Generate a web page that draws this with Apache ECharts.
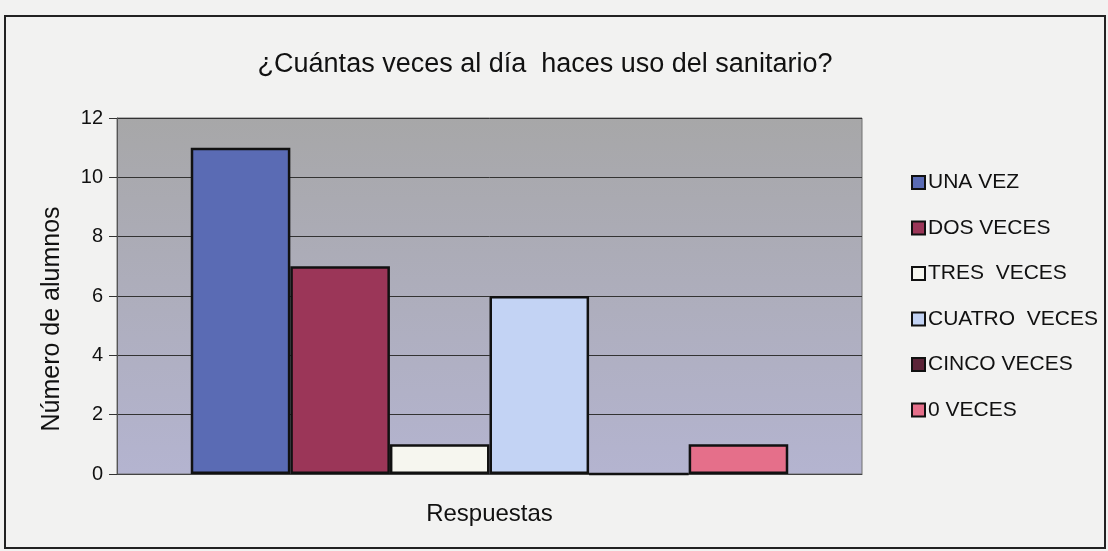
<!DOCTYPE html>
<html>
<head>
<meta charset="utf-8">
<script src="https://cdn.jsdelivr.net/npm/echarts@6/dist/echarts.min.js"></script>
<style>
html,body{margin:0;padding:0;background:#f2f2f1;}
#c{width:1108px;height:551px;}
</style>
</head>
<body>
<div id="c"></div>
<script>
var categories = ['Respuestas'];
var seriesNames = ['UNA VEZ', 'DOS VECES', 'TRES  VECES', 'CUATRO  VECES', 'CINCO VECES', '0 VECES'];
var seriesValues = [11, 7, 1, 6, 0, 1];
var seriesColors = ['#5a6bb4', '#9b3658', '#f6f6ef', '#c3d3f4', '#5c2438', '#e56f8a'];
var yTicks = { min: 0, max: 12, interval: 2 };

var chart = echarts.init(document.getElementById('c'));
var series = seriesNames.map(function (n, i) {
  return {
    name: n,
    type: 'bar',
    data: [seriesValues[i]],
    barGap: '0%',
    barCategoryGap: '19.8%',
    itemStyle: { color: seriesColors[i], borderColor: '#111', borderWidth: 2.5 }
  };
});
chart.setOption({
  backgroundColor: '#f2f2f1',
  animation: false,
  textStyle: { fontFamily: 'Liberation Sans, Arial, sans-serif' },
  title: {
    text: '¿Cuántas veces al día  haces uso del sanitario?',
    left: 540,
    textAlign: 'center',
    top: 46,
    textStyle: { fontSize: 27, fontWeight: 'normal', color: '#111', fontFamily: 'Liberation Sans' }
  },
  graphic: [{
    type: 'rect',
    shape: { x: 5, y: 16, width: 1100, height: 532 },
    style: { fill: 'none', stroke: '#222', lineWidth: 2 },
    silent: true
  }],
  legend: {
    orient: 'vertical',
    left: 906,
    top: 167,
    itemGap: 24.5,
    itemWidth: 13,
    itemHeight: 13,
    icon: 'rect',
    itemStyle: { borderColor: '#111', borderWidth: 2 },
    textStyle: { fontSize: 21, color: '#111', fontFamily: 'Liberation Sans', padding: [0, 0, 0, -2] },
    data: seriesNames
  },
  grid: {
    left: 117, right: 246, top: 118, bottom: 77,
    show: true,
    borderColor: '#707070',
    borderWidth: 1,
    backgroundColor: new echarts.graphic.LinearGradient(0, 0, 0, 1, [
      { offset: 0, color: '#a7a7a8' },
      { offset: 1, color: '#b4b4d0' }
    ])
  },
  xAxis: {
    type: 'category',
    data: categories,
    name: 'Respuestas',
    nameLocation: 'middle',
    nameGap: 28,
    nameTextStyle: { fontSize: 24, color: '#111' },
    axisLabel: { show: false },
    axisTick: { show: false },
    axisLine: { lineStyle: { color: '#444', width: 1 } }
  },
  yAxis: {
    type: 'value',
    min: yTicks.min,
    max: yTicks.max,
    interval: yTicks.interval,
    name: 'Número de alumnos',
    nameLocation: 'middle',
    nameGap: 52,
    nameTextStyle: { fontSize: 25, color: '#111', padding: [0, 46, 0, 0] },
    axisLine: { show: true, lineStyle: { color: '#555' } },
    axisTick: { show: true, length: 8, lineStyle: { color: '#333' } },
    axisLabel: { fontSize: 20, color: '#111', margin: 14 },
    splitLine: { lineStyle: { color: '#333', width: 1 } }
  },
  series: series
});
</script>
</body>
</html>
